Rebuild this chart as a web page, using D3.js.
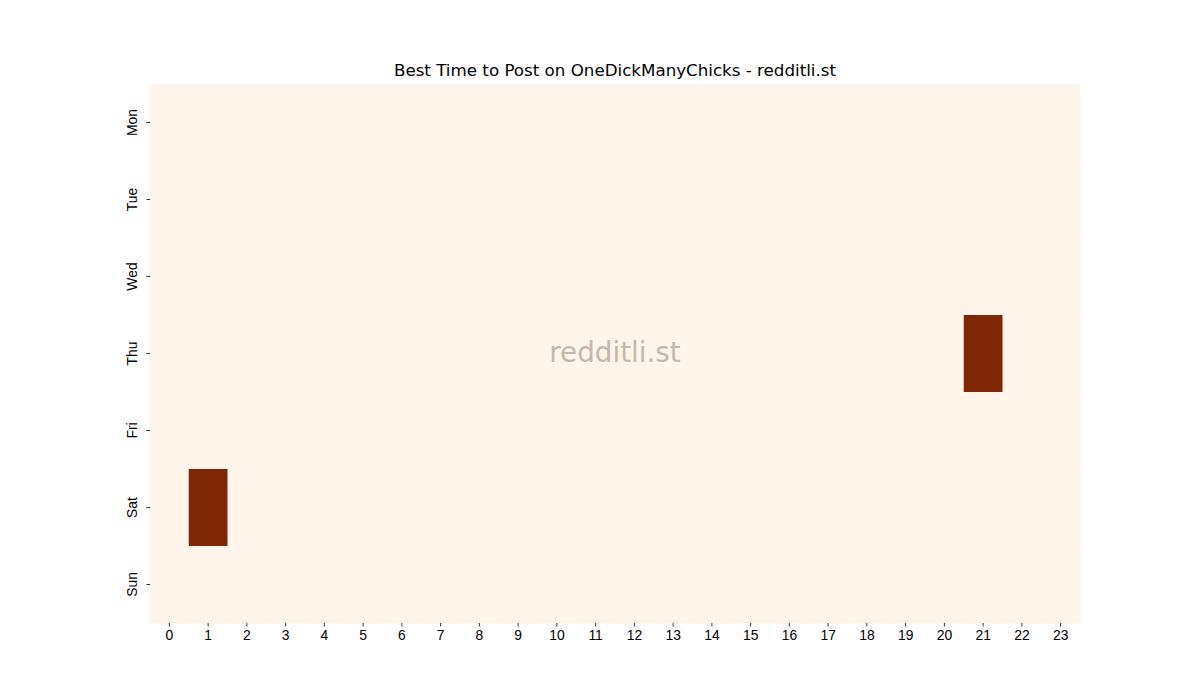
<!DOCTYPE html>
<html lang="en">
<head>
	<meta charset="utf-8">
	<title>Best Time to Post</title>
	<script src="https://cdn.jsdelivr.net/npm/d3@7"></script>
	<style>
		body { margin: 0; background: #fff; }
	</style>
</head>
<body>
	<script type="text/javascript">

		const days = ["Mon", "Tue", "Wed", "Thu", "Fri", "Sat", "Sun"];
		const hours = ["0", "1", "2", "3", "4", "5", "6", "7", "8", "9", "10", "11",
			"12", "13", "14", "15", "16", "17", "18", "19", "20", "21", "22", "23"];

		// post score per day, one value per hour
		const mon = [0, 0, 0, 0, 0, 0, 0, 0, 0, 0, 0, 0, 0, 0, 0, 0, 0, 0, 0, 0, 0, 0, 0, 0];
		const tue = [0, 0, 0, 0, 0, 0, 0, 0, 0, 0, 0, 0, 0, 0, 0, 0, 0, 0, 0, 0, 0, 0, 0, 0];
		const wed = [0, 0, 0, 0, 0, 0, 0, 0, 0, 0, 0, 0, 0, 0, 0, 0, 0, 0, 0, 0, 0, 0, 0, 0];
		const thu = [0, 0, 0, 0, 0, 0, 0, 0, 0, 0, 0, 0, 0, 0, 0, 0, 0, 0, 0, 0, 0, 1, 0, 0];
		const fri = [0, 0, 0, 0, 0, 0, 0, 0, 0, 0, 0, 0, 0, 0, 0, 0, 0, 0, 0, 0, 0, 0, 0, 0];
		const sat = [0, 1, 0, 0, 0, 0, 0, 0, 0, 0, 0, 0, 0, 0, 0, 0, 0, 0, 0, 0, 0, 0, 0, 0];
		const sun = [0, 0, 0, 0, 0, 0, 0, 0, 0, 0, 0, 0, 0, 0, 0, 0, 0, 0, 0, 0, 0, 0, 0, 0];

		const rows = [mon, tue, wed, thu, fri, sat, sun];

		const w = 1200;
		const h = 700;
		const plotLeft = 150, plotRight = 1080, plotTop = 84, plotBottom = 623;

		const cells = [];
		rows.forEach(function (r, i) {
			r.forEach(function (v, j) {
				cells.push({ day: days[i], hour: hours[j], value: v });
			});
		});

		const svg = d3.select("body")
			.append("svg")
			.attr("width", w)
			.attr("height", h)
			.style("font-family", "DejaVu Sans, sans-serif");

		const x = d3.scaleBand().domain(hours).range([plotLeft, plotRight]);
		const y = d3.scaleBand().domain(days).range([plotTop, plotBottom]);
		const color = d3.scaleLinear().domain([0, 1]).range(["#fff5eb", "#7f2704"]);

		svg.selectAll("rect.cell")
			.data(cells)
			.enter()
			.append("rect")
			.attr("class", "cell")
			.attr("x", function (d) { return x(d.hour); })
			.attr("y", function (d) { return y(d.day); })
			.attr("width", x.bandwidth() + 0.5)
			.attr("height", y.bandwidth() + 0.5)
			.attr("fill", function (d) { return color(d.value); });

		// axes
		const xAxis = svg.append("g")
			.attr("transform", `translate(0,${plotBottom})`)
			.call(d3.axisBottom(x).tickSize(3.5).tickPadding(3.5));
		xAxis.select(".domain").remove();
		xAxis.selectAll("text").attr("font-size", "13.9px").attr("fill", "#000");
		xAxis.selectAll("line").attr("stroke", "#000").attr("stroke-width", 0.8);

		const yAxis = svg.append("g")
			.attr("transform", `translate(${plotLeft},0)`)
			.call(d3.axisLeft(y).tickSize(3.5).tickPadding(3.5));
		yAxis.select(".domain").remove();
		yAxis.selectAll("line").attr("stroke", "#000").attr("stroke-width", 0.8);
		yAxis.selectAll("text")
			.attr("font-size", "13.9px")
			.attr("fill", "#000")
			.attr("text-anchor", "middle")
			.attr("dy", null)
			.attr("x", null)
			.attr("transform", "translate(-13,0) rotate(-90)");

		// title
		svg.append("text")
			.attr("x", (plotLeft + plotRight) / 2)
			.attr("y", 76)
			.attr("text-anchor", "middle")
			.attr("font-size", "16.7px")
			.attr("fill", "#000")
			.text("Best Time to Post on OneDickManyChicks - redditli.st");

		// watermark
		svg.append("text")
			.attr("x", (plotLeft + plotRight) / 2)
			.attr("y", 362)
			.attr("text-anchor", "middle")
			.attr("font-size", "27.8px")
			.attr("fill", "#c6b6ad")
			.text("redditli.st");

	</script>
</body>
</html>
